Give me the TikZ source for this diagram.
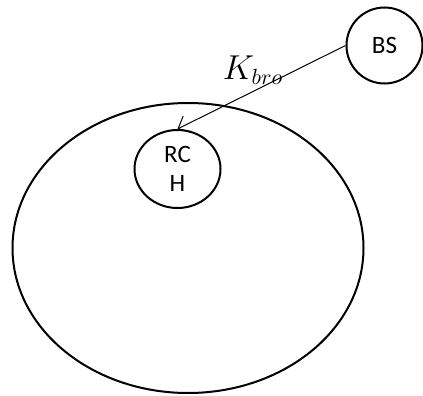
\documentclass[tikz,border=0pt]{standalone}
\usepackage{fontspec}
\setmainfont{Carlito}
\usetikzlibrary{shapes.geometric}
\usetikzlibrary{arrows.meta}

\begin{document}
\begin{tikzpicture}[x=0.5pt, y=-0.5pt]
        \useasboundingbox (0,0) rectangle (423,396);

        \node[ellipse, draw=black, line width=1pt, minimum width=175.5pt, minimum height=145pt] (cell) at (188,248) {};
        \node[circle, draw=black, line width=1pt, minimum size=38pt, inner sep=0pt, font=\fontsize{12.5}{14}\selectfont] (BS) at (384.5,45.5) {BS};
        \node[ellipse, draw=black, line width=1pt, minimum width=43pt, minimum height=39pt, inner sep=0pt, align=center, font=\fontsize{12.5}{14.5}\selectfont] (RCH) at (177.5,169) {RC\\H};

        \draw[black, line width=0.5pt, -{Straight Barb[length=5pt, width=9pt]}] (BS.west) -- (RCH.north)
            node[pos=0.55, above, font=\fontsize{16}{18}\selectfont] (K) {$K_{bro}$};
    \end{tikzpicture}
\end{document}
